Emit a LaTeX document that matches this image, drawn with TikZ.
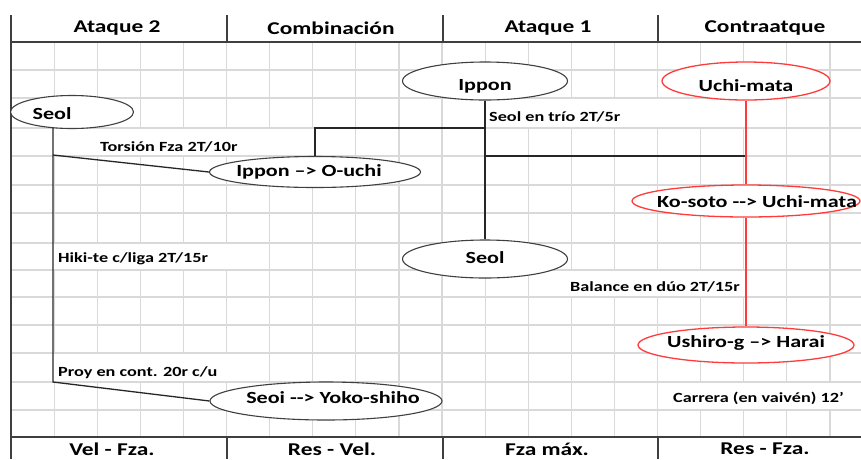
\documentclass[tikz,border=0pt]{standalone}
\usepackage{fontspec}
\setmainfont{Carlito}[FakeStretch=1.3]
\usetikzlibrary{shapes.geometric,positioning}
\definecolor{gridgray}{HTML}{D9D9D9}
\definecolor{rulegray}{HTML}{3F3F3F}
\definecolor{redline}{HTML}{FF3B3B}
% text that does not widen its ellipse (optional drop)
\newcommand{\techtext}[2][0pt]{\makebox[0pt]{\raisebox{#1}[\height][\depth]{#2}}}

\begin{document}
\begin{tikzpicture}[x=1pt,y=-1pt,
  bubble/.style={ellipse, draw=rulegray, line width=1.1pt, fill=white, inner sep=0pt,
    font=\fontsize{17}{17}\selectfont\bfseries},
  redbubble/.style={bubble, draw=redline, line width=1.3pt},
  head/.style={font=\fontsize{18}{18}\selectfont\bfseries, inner sep=0pt},
  note/.style={font=\fontsize{14}{14}\selectfont\bfseries, inner sep=0pt},
  link/.style={draw=black!85, line width=1.3pt},
  redlink/.style={draw=redline, line width=1.4pt}]
\useasboundingbox (0,0) rectangle (861,459);

% grid
\foreach \k in {1,...,19}
  \draw[gridgray, line width=1.2pt] ({11+43.1*\k},42) -- ({11+43.1*\k},437);
\foreach \y in {70,98,128,156,185,213,243,270,297,325,353,382,410}
  \draw[gridgray, line width=1.2pt] (11,\y) -- (861,\y);
% white bands behind the notes
\foreach \xa/\ya/\xb/\yb in {54/128/313/156, 486/98/745/128, 54/243/227/270,
    529/270/745/297, 54/353/227/382, 658/382/861/410}
  \fill[white] ({\xa},{\ya+0.7}) rectangle ({\xb},{\yb-0.7});

% frame
\draw[rulegray, line width=1.4pt] (11,15) -- (11,459);
\draw[rulegray, line width=1.4pt] (11,42) -- (861,42) (11,437) -- (861,437);
\foreach \x in {227,443,658}
  \draw[rulegray, line width=1.4pt] (\x,15) -- (\x,42) (\x,437) -- (\x,459);

% headers
\node[head] (ataqueB) at (117,28) {Ataque 2};
\node[head] (combi) at (331,28) {Combinación};
\node[head] (ataqueA) at (548,28) {Ataque 1};
\node[head] (contra) at (765,28) {Contraatque};
\node[head] (velfza) at (112,449) {Vel - Fza.};
\node[head] (resvel) at (332,449) {Res - Vel.};
\node[head] (fzamax) at (547,449) {Fza máx.};
\node[head] (resfza) at (765,449) {Res - Fza.};

% joints
\coordinate (seolfoot) at (53,128);
\coordinate (kneeA) at (53,155);
\coordinate (kneeB) at (53,382);
\coordinate (hubA) at (485,128);
\coordinate (hubB) at (485,156);

% techniques
\node[bubble, minimum width=165pt, minimum height=38pt] (ippon) at (485,81) {\techtext[-5pt]{Ippon}};
\node[redbubble, minimum width=168pt, minimum height=38pt] (uchimata) at (746,81) {\techtext[-5pt]{Uchi-mata}};
\node[bubble, minimum width=123pt, minimum height=33pt] (seolA) at (72,112) {\techtext[-2pt]{\hspace*{-40pt}Seol}};
\node[bubble, minimum width=211pt, minimum height=31pt] (ouchi) at (315,172) {\techtext{\hspace*{-12pt}Ippon --> O-uchi}};
\node[redbubble, minimum width=228pt, minimum height=32pt] (kosoto) at (746,201) {\techtext[-1pt]{\hspace*{22pt}Ko-soto -{}-> Uchi-mata}};
\node[bubble, minimum width=165pt, minimum height=38pt] (seolB) at (485,259) {\techtext[1pt]{Seol}};
\node[redbubble, minimum width=216pt, minimum height=36pt] (ushiro) at (746,345) {\techtext[2pt]{Ushiro-g --> Harai}};
\node[bubble, minimum width=232pt, minimum height=38pt] (yoko) at (326,401) {\techtext[3pt]{\hspace*{14pt}Seoi -{}-> Yoko-shiho}};

% connectors
\draw[link] (seolfoot) -- (kneeB) -- (yoko.west);
\draw[link] (kneeA) -- (ouchi.west);
\draw[link] (ouchi.north) |- (hubA);
\draw[link] (ippon.south) -- (seolB.north);
\draw[link] (hubB) -- (hubB -| uchimata.south);
\draw[redlink] (uchimata.south) -- (kosoto.north);
\draw[redlink] (kosoto.south) -- (ushiro.north);

% notes
\node[note, anchor=west] (torsion) at (100,147) {Torsión Fza 2T/10r};
\node[note, anchor=west] (trio) at (489,117) {Seol en trío 2T/5r};
\node[note, anchor=west] (hikite) at (58,259) {Hiki-te c/liga 2T/15r};
\node[note, anchor=east] (balance) at (740,287) {Balance en dúo 2T/15r};
\node[note, anchor=west] (proy) at (58,373) {Proy en cont. 20r c/u};
\node[note, anchor=west] (carrera) at (673,398) {Carrera (en vaivén) 12'};
\end{tikzpicture}
\end{document}
